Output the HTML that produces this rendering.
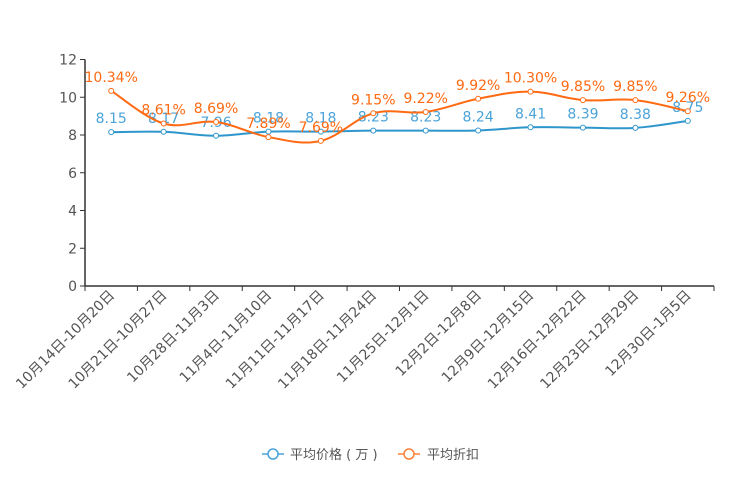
<!DOCTYPE html>
<html><head><meta charset="utf-8"><style>
html,body{margin:0;padding:0;background:#fff;width:744px;height:496px;overflow:hidden}
svg{font-family:"DejaVu Sans","Noto Sans CJK SC",sans-serif}
</style></head><body>
<svg id="chart" width="744" height="496" viewBox="0 0 744 496"></svg>
<script>
const categories=["10月14日-10月20日","10月21日-10月27日","10月28日-11月3日","11月4日-11月10日","11月11日-11月17日","11月18日-11月24日","11月25日-12月1日","12月2日-12月8日","12月9日-12月15日","12月16日-12月22日","12月23日-12月29日","12月30日-1月5日"];
const priceValues=[8.15,8.17,7.96,8.18,8.18,8.23,8.23,8.24,8.41,8.39,8.38,8.75];
const discountValues=[10.34,8.61,8.69,7.89,7.69,9.15,9.22,9.92,10.30,9.85,9.85,9.26];
const yTicks=[0,2,4,6,8,10,12];
const NS="http://www.w3.org/2000/svg";
const svg=document.getElementById('chart');
const L=85,R=714,T=59.5,B=286,YMAX=12;
const band=(R-L)/categories.length;
const x=i=>L+band*(i+0.5);
const y=v=>B-(v/YMAX)*(B-T);
function mk(tag,attrs,parent){const e=document.createElementNS(NS,tag);for(const k in attrs)e.setAttribute(k,attrs[k]);(parent||svg).appendChild(e);return e;}
const ax=mk('line',{x1:L,y1:T,x2:L,y2:B,stroke:'#333','stroke-width':1.5});


const bx=mk('line',{x1:L,y1:B,x2:R,y2:B,stroke:'#333','stroke-width':1.5});


yTicks.forEach(t=>{
  mk('line',{x1:L-5,y1:y(t),x2:L,y2:y(t),stroke:'#333'});
  const tx=mk('text',{x:L-8,y:y(t)+5,'text-anchor':'end','font-size':14,fill:'#555'});
  tx.textContent=t;
  
  
});
for(let i=0;i<=categories.length;i++){mk('line',{x1:L+band*i,y1:B,x2:L+band*i,y2:B+5,stroke:'#333'});}
categories.forEach((c,i)=>{
  const tx=mk('text',{x:x(i)+4,y:B+10,'text-anchor':'end','font-size':14,fill:'#555',transform:`rotate(-45 ${x(i)+4} ${B+10})`});
  tx.textContent=c;
  
  
});
function smooth(pts){
  let d=`M${pts[0][0]},${pts[0][1]}`;
  for(let i=0;i<pts.length-1;i++){
    const p0=pts[i-1]||pts[i],p1=pts[i],p2=pts[i+1],p3=pts[i+2]||p2,k=0.18;
    d+=` C${p1[0]+(p2[0]-p0[0])*k},${p1[1]+(p2[1]-p0[1])*k} ${p2[0]-(p3[0]-p1[0])*k},${p2[1]-(p3[1]-p1[1])*k} ${p2[0]},${p2[1]}`;
  }
  return d;
}
function series(vals,color,labelColor,name,fmt){
  const pts=vals.map((v,i)=>[x(i),y(v)]);
  const p=mk('path',{d:smooth(pts),fill:'none',stroke:color,'stroke-width':2});
  
  
  pts.forEach((pt,i)=>{
    const c=mk('circle',{cx:pt[0],cy:pt[1],r:2.5,fill:'#fff',stroke:color,'stroke-width':1});
    
    
    const t=mk('text',{x:pt[0],y:pt[1]-9,'text-anchor':'middle','font-size':14,fill:labelColor});
    t.textContent=fmt(vals[i]);
    
    
  });
}
series(priceValues,'#2f96cc','#4ba3d8','price',v=>v.toFixed(2));
series(discountValues,'#ff6a13','#ff6a13','discount',v=>v.toFixed(2)+'%');
</script>
<svg style="position:absolute;left:0;top:0" width="744" height="496">
<g>
<line x1="262" y1="454" x2="284" y2="454" stroke="#4ba3d8" stroke-width="1.5"/>
<circle cx="273" cy="454" r="5" fill="#fff" stroke="#4ba3d8" stroke-width="1.5"/>
<text x="290" y="459" font-size="13" fill="#555" font-family="DejaVu Sans,Noto Sans CJK SC,sans-serif">平均价格 ( 万 )</text>
</g>
<g>
<line x1="398" y1="454" x2="420" y2="454" stroke="#ff7f3a" stroke-width="1.5"/>
<circle cx="409" cy="454" r="5" fill="#fff" stroke="#ff7f3a" stroke-width="1.5"/>
<text x="427" y="459" font-size="13" fill="#555" font-family="DejaVu Sans,Noto Sans CJK SC,sans-serif">平均折扣</text>
</g>
</svg>
</body></html>
